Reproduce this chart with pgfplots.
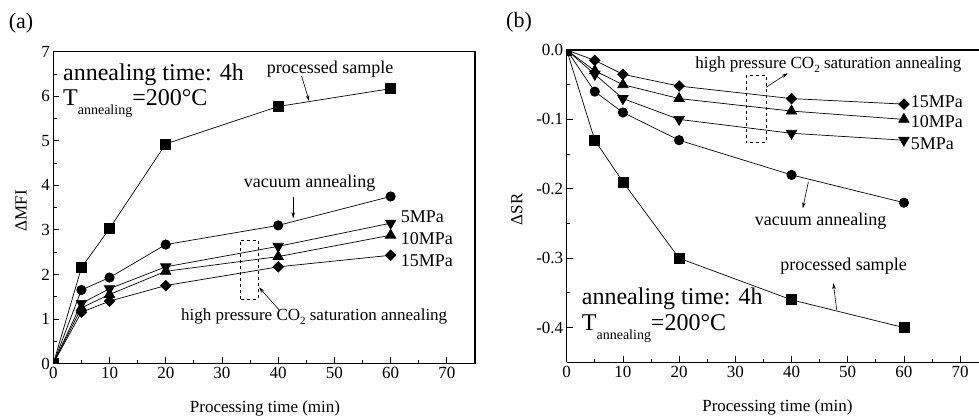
\documentclass[border=0pt]{standalone}
\usepackage{pgfplots}
\pgfplotsset{compat=1.18}
\usepackage{fontspec}
\setmainfont{Liberation Serif}
\usetikzlibrary{arrows.meta}
\begin{document}
\begin{tikzpicture}
\tikzset{
  ann/.style={font=\fontsize{18}{18}\selectfont, inner sep=0pt},
  arr/.style={-{Stealth[length=6pt,width=3.5pt]}, line width=0.6pt},
}
\pgfplotsset{
  base/.style={
    scale only axis,
    tick align=inside, tick pos=left,
    xtick={0,10,...,70}, minor x tick num=1,
    minor y tick num=1,
    major tick length=6pt, minor tick length=3.5pt,
    every tick/.style={black, line width=0.8pt},
    axis line style={line width=1.3pt},
    tick label style={font=\fontsize{17}{17}\selectfont},
    label style={font=\fontsize{17}{17}\selectfont},
    /pgf/number format/assume math mode=true,
    clip marker paths=true,
    clip mode=individual,
    every axis plot/.append style={black, line width=0.7pt, mark options={solid, fill=black}},
  },
  sq/.style={mark=square*, mark size=5pt},
  ci/.style={mark=*, mark size=4.7pt},
  td/.style={mark=triangle*, mark size=6pt, mark options={rotate=180}},
  tu/.style={mark=triangle*, mark size=6pt},
  di/.style={mark=square*, mark size=3.7pt, mark options={rotate=45}},
}
% ---------------- (a) ----------------
\begin{axis}[base,
  at={(53.3pt,55.5pt)}, anchor=south west,
  width=421.7pt, height=311.8pt,
  xmin=0, xmax=75, ymin=0, ymax=7,
  ytick={0,1,...,7},
  xlabel={Processing time (min)},
  ylabel={ΔMFI},
  xlabel style={at={(axis description cs:0.502,-0.143)}, anchor=center},
  ylabel style={at={(axis description cs:-0.0766,0.49)}, anchor=center},
]
\addplot[sq] coordinates {(0,0) (5,2.15) (10,3.03) (20,4.93) (40,5.77) (60,6.17)};
\addplot[ci] coordinates {(0,0) (5,1.65) (10,1.93) (20,2.67) (40,3.10) (60,3.75)};
\addplot[td] coordinates {(0,0) (5,1.35) (10,1.68) (20,2.17) (40,2.63) (60,3.15)};
\addplot[tu] coordinates {(0,0) (5,1.25) (10,1.55) (20,2.07) (40,2.40) (60,2.88)};
\addplot[di] coordinates {(0,0) (5,1.15) (10,1.40) (20,1.75) (40,2.17) (60,2.43)};

\node[anchor=west, inner sep=0pt, font=\fontsize{24}{24}\selectfont] at (axis cs:1.72,6.48) {annealing time: 4h};
\node[anchor=west, inner sep=0pt, font=\fontsize{24}{24}\selectfont] at (axis cs:1.72,5.84) {T\raisebox{-9pt}{\fontsize{14}{14}\selectfont annealing}=200\textdegree C};
\node[ann] at (axis cs:49.25,6.6) {processed sample};
\draw[arr] (axis cs:44.17,6.45) -- (axis cs:45.5,5.89);
\node[ann] at (axis cs:45.6,4.05) {vacuum annealing};
\draw[arr] (axis cs:42.67,3.745) -- (axis cs:42.67,3.26);
\node[ann, anchor=west] at (axis cs:61.8,3.30) {5MPa};
\node[ann, anchor=west] at (axis cs:61.8,2.81) {10MPa};
\node[ann, anchor=west] at (axis cs:61.8,2.31) {15MPa};
\draw[dashed, line width=0.6pt] (axis cs:33.2,1.44) rectangle (axis cs:36.4,2.77);
\draw[arr] (axis cs:40.19,1.20) -- (axis cs:36.58,1.71);
\node[font=\fontsize{17}{17}\selectfont, inner sep=0pt] at (axis cs:46.4,1.05) {high pressure CO\raisebox{-4pt}{\fontsize{11}{11}\selectfont 2} saturation annealing};
\end{axis}
% ---------------- (b) ----------------
\begin{axis}[base,
  at={(566.7pt,56.7pt)}, anchor=south west,
  width=412.3pt, height=312.3pt,
  xmin=0, xmax=73.36, ymin=-0.45, ymax=0,
  ytick={-0.4,-0.3,-0.2,-0.1,0},
  yticklabel style={/pgf/number format/.cd, fixed, fixed zerofill, precision=1},
  axis x line*=bottom, axis y line*=left,
  axis line style={-, line width=1.3pt},
  xlabel={Processing time (min)},
  ylabel={ΔSR},
  xlabel style={at={(axis description cs:0.511,-0.146)}, anchor=center},
  ylabel style={at={(axis description cs:-0.121,0.49)}, anchor=center},
]
\draw[line width=1.3pt] (rel axis cs:0,1) -- (rel axis cs:1,1);
\addplot[di] coordinates {(0,0) (5,-0.015) (10,-0.035) (20,-0.052) (40,-0.070) (60,-0.078)};
\addplot[tu] coordinates {(0,0) (5,-0.030) (10,-0.050) (20,-0.070) (40,-0.088) (60,-0.100)};
\addplot[td] coordinates {(0,0) (5,-0.035) (10,-0.070) (20,-0.100) (40,-0.120) (60,-0.130)};
\addplot[ci] coordinates {(0,0) (5,-0.060) (10,-0.090) (20,-0.130) (40,-0.180) (60,-0.220)};
\addplot[sq] coordinates {(0,0) (5,-0.130) (10,-0.190) (20,-0.300) (40,-0.360) (60,-0.400)};

\node[font=\fontsize{17}{17}\selectfont, inner sep=0pt] at (axis cs:46.55,-0.0216) {high pressure CO\raisebox{-4pt}{\fontsize{11}{11}\selectfont 2} saturation annealing};
\draw[dashed, line width=0.6pt] (axis cs:31.9,-0.036) rectangle (axis cs:35.46,-0.1336);
\draw[arr] (axis cs:35.46,-0.0538) -- (axis cs:39.3,-0.0336);
\node[ann, anchor=west] at (axis cs:61.2,-0.0745) {15MPa};
\node[ann, anchor=west] at (axis cs:61.2,-0.1037) {10MPa};
\node[ann, anchor=west] at (axis cs:61.2,-0.1354) {5MPa};
\draw[arr] (axis cs:43.0,-0.19) -- (axis cs:42.0,-0.228);
\node[ann] at (axis cs:45.16,-0.2474) {vacuum annealing};
\node[ann] at (axis cs:49.25,-0.3122) {processed sample};
\draw[arr] (axis cs:48.04,-0.3746) -- (axis cs:47.44,-0.336);
\node[anchor=west, inner sep=0pt, font=\fontsize{24}{24}\selectfont] at (axis cs:2.67,-0.3578) {annealing time: 4h};
\node[anchor=west, inner sep=0pt, font=\fontsize{24}{24}\selectfont] at (axis cs:2.67,-0.401) {T\raisebox{-9pt}{\fontsize{14}{14}\selectfont annealing}=200\textdegree C};
\end{axis}
\node[font=\fontsize{22}{22}\selectfont, inner sep=0pt] at (21pt,396pt) {(a)};
\node[font=\fontsize{22}{22}\selectfont, inner sep=0pt] at (519pt,397pt) {(b)};
\pgfresetboundingbox
\path[use as bounding box] (0,0) rectangle (979pt,419pt);
\end{tikzpicture}
\end{document}
